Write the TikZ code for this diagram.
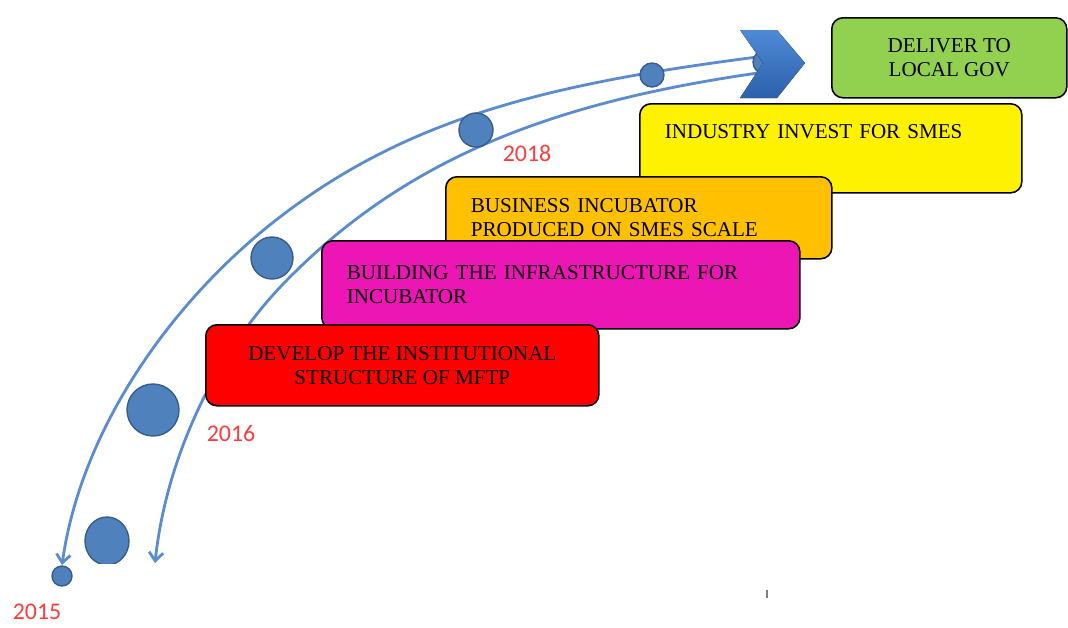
\documentclass[tikz,border=0pt]{standalone}
\usepackage{xcolor}
\usepackage{fontspec}
\setmainfont{Liberation Serif}
\newfontfamily\yearfont{Carlito}
\usepackage{tikz}
\usetikzlibrary{shapes.geometric, arrows, arrows.meta}
\definecolor{lineblue}{RGB}{91,140,208}
\definecolor{dotblue}{RGB}{79,129,189}
\definecolor{dotedge}{RGB}{56,93,138}
\definecolor{chevtop}{RGB}{78,138,214}
\definecolor{chevbot}{RGB}{44,96,170}
\definecolor{gogreen}{RGB}{146,208,80}
\definecolor{yearred}{RGB}{255,60,60}
\definecolor{incorange}{RGB}{255,192,0}
\definecolor{infmagenta}{RGB}{236,22,180}
\tikzstyle{stage} = [rectangle, rounded corners=0.28cm, draw=black, line width=1.1pt, font=\fontsize{15}{17}\selectfont, inner ysep=0pt]
\tikzstyle{stageleft} = [stage, align=left, inner xsep=0.625cm]
\tikzstyle{stagecenter} = [stage, align=center]
\tikzstyle{dot} = [circle, fill=dotblue, draw=dotedge, line width=1pt, inner sep=0pt]
\tikzstyle{year} = [text=yearred, font=\yearfont\fontsize{17}{20}\selectfont]
\tikzstyle{arc} = [lineblue, line width=2pt, -{Straight Barb[length=6pt, width=10pt]}]

\begin{document}
\begin{tikzpicture}[x=0.025cm, y=-0.025cm]
        \useasboundingbox (0,0) rectangle (1068,627);
        % the two timeline arcs
        \coordinate (outerstart) at (765,56);
        \coordinate (outermid) at (260,233);
        \coordinate (outerend) at (62,565);
        \coordinate (innerstart) at (765,72);
        \coordinate (innermid) at (287,280);
        \coordinate (innerend) at (155,563);
        \draw [arc] (outerstart) .. controls (545,84) and (397,119) .. (outermid) .. controls (161,316) and (80,437) .. (outerend);
        \draw [arc] (innerstart) .. controls (557,101) and (409,156) .. (innermid) .. controls (214,354) and (166,460) .. (innerend);
        % dots along the way
        \node (d0) [dot, minimum size=0.5cm] at (62,576) {};
        \begin{scope}
          \clip (80,510) rectangle (140,563);
          \draw [fill=dotblue, draw=dotedge, line width=1pt] (107,541) ellipse [x radius=22, y radius=24];
        \end{scope}
        \node (d2) [dot, minimum size=1.3cm] at (153,410) {};
        \node (d3) [dot, minimum size=1.05cm] at (272,258) {};
        \node (d4) [dot, minimum size=0.85cm] at (476,130) {};
        \node (d5) [dot, minimum size=0.6cm] at (652,75) {};
        \node (d6) [dot, minimum size=0.6cm] at (765,62) {};
        % chevron head
        \fill [top color=chevtop, bottom color=chevbot] (740,30) -- (777,30) -- (805,63) -- (777,98) -- (740,98) -- (763,63) -- cycle;
        % stages
        \node (industry) [stageleft, fill=yellow, anchor=north west, text width=8.3cm, text height=0.875cm, text depth=1.35cm] at (639,103) {INDUSTRY INVEST FOR SMES};
        \node (incubator) [stageleft, fill=incorange, anchor=north west, text width=8.4cm, minimum height=2.05cm] at (445,176) {BUSINESS INCUBATOR\\PRODUCED ON SMES SCALE};
        \node (infra) [stageleft, fill=infmagenta, anchor=north west, text width=10.7cm, minimum height=2.2cm] at (321,240) {BUILDING THE INFRASTRUCTURE FOR\\INCUBATOR};
        \node (institution) [stagecenter, fill=red, anchor=north west, minimum width=9.825cm, minimum height=2.025cm] at (205,324) {DEVELOP THE INSTITUTIONAL\\STRUCTURE OF MFTP};
        \node (deliver) [stagecenter, fill=gogreen, anchor=north west, minimum width=5.875cm, minimum height=2cm] at (831,17) {DELIVER TO\\LOCAL GOV};
        % years
        \node (y2015) [year] at (37,612) {2015};
        \node (y2016) [year] at (231,434) {2016};
        \node (y2018) [year] at (527,153) {2018};
        \fill [gray] (766,590) rectangle (768,598);
\end{tikzpicture}
\end{document}
